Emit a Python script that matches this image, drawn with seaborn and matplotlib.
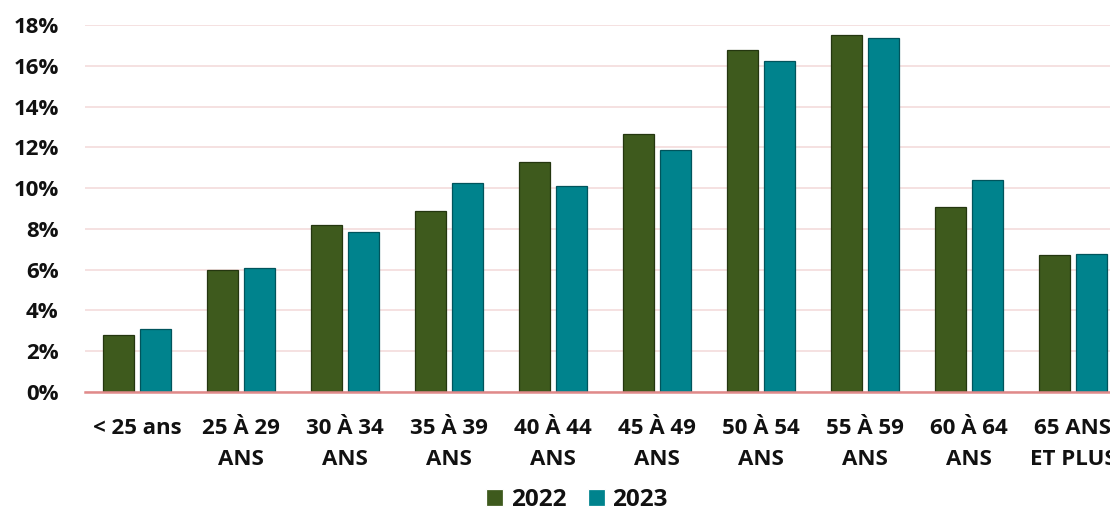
import matplotlib
matplotlib.use("Agg")
import matplotlib.pyplot as plt
import seaborn as sns
import pandas as pd
from matplotlib.ticker import FuncFormatter

categories = ["< 25 ans", "25 À 29\nANS", "30 À 34\nANS", "35 À 39\nANS", "40 À 44\nANS",
              "45 À 49\nANS", "50 À 54\nANS", "55 À 59\nANS", "60 À 64\nANS", "65 ANS\nET PLUS"]
values_2022 = [2.8, 6.0, 8.2, 8.9, 11.3, 12.65, 16.75, 17.5, 9.05, 6.7]
values_2023 = [3.1, 6.1, 7.85, 10.25, 10.1, 11.85, 16.25, 17.35, 10.4, 6.75]
series = ["2022", "2023"]
yticks = [0, 2, 4, 6, 8, 10, 12, 14, 16, 18]

df = pd.DataFrame({
    "cat": categories * 2,
    "val": values_2022 + values_2023,
    "year": [series[0]] * len(categories) + [series[1]] * len(categories),
})

sns.set_theme(style="white")
plt.rcParams["font.family"] = ["Open Sans", "DejaVu Sans"]
plt.rcParams["font.weight"] = "bold"

fig = plt.figure(figsize=(11.10, 5.26), dpi=100)
ax = fig.add_axes([85 / 1110, (526 - 392) / 526, 1040 / 1110, (392 - 25) / 526])

palette = {"2022": "#3e5a1d", "2023": "#00838d"}
sns.barplot(data=df, x="cat", y="val", hue="year", palette=palette, ax=ax,
            width=0.72, gap=0.16, saturation=1, linewidth=0.9)
for bar, c in zip(ax.patches, ["#24360f"] * len(categories) + ["#00545c"] * len(categories)):
    bar.set_edgecolor(c)

ax.set_ylim(0, 18)
ax.set_xlim(-0.5, len(categories) - 0.5)
ax.set_yticks(yticks)
ax.yaxis.set_major_formatter(FuncFormatter(lambda v, p: f"{int(v)}%"))
ax.grid(axis="y", color="#f3dcdb", linewidth=1.2)
ax.set_axisbelow(True)
for s in ["left", "right", "top"]:
    ax.spines[s].set_visible(False)
ax.spines["bottom"].set_color("#e08a8a")
ax.spines["bottom"].set_linewidth(1.8)
ax.set_xlabel("")
ax.set_ylabel("")
ax.tick_params(axis="y", length=0, pad=19, labelsize=16, labelcolor="#111111")
ax.tick_params(axis="x", length=0, pad=19, labelsize=16, labelcolor="#111111")
for t in ax.get_xticklabels() + ax.get_yticklabels():
    t.set_fontweight("bold")
for t in ax.get_xticklabels():
    t.set_linespacing(1.6)

sns.move_legend(ax, "center", bbox_to_anchor=(577 / 1110, 1 - 500 / 526),
                bbox_transform=fig.transFigure, ncol=2, frameon=False, title=None,
                handlelength=0.7, handleheight=0.7, handletextpad=0.3, columnspacing=0.9,
                fontsize=17.5)
for t in ax.get_legend().get_texts():
    t.set_fontweight("bold")
    t.set_color("#111111")

fig.savefig("out.png", dpi=100)
